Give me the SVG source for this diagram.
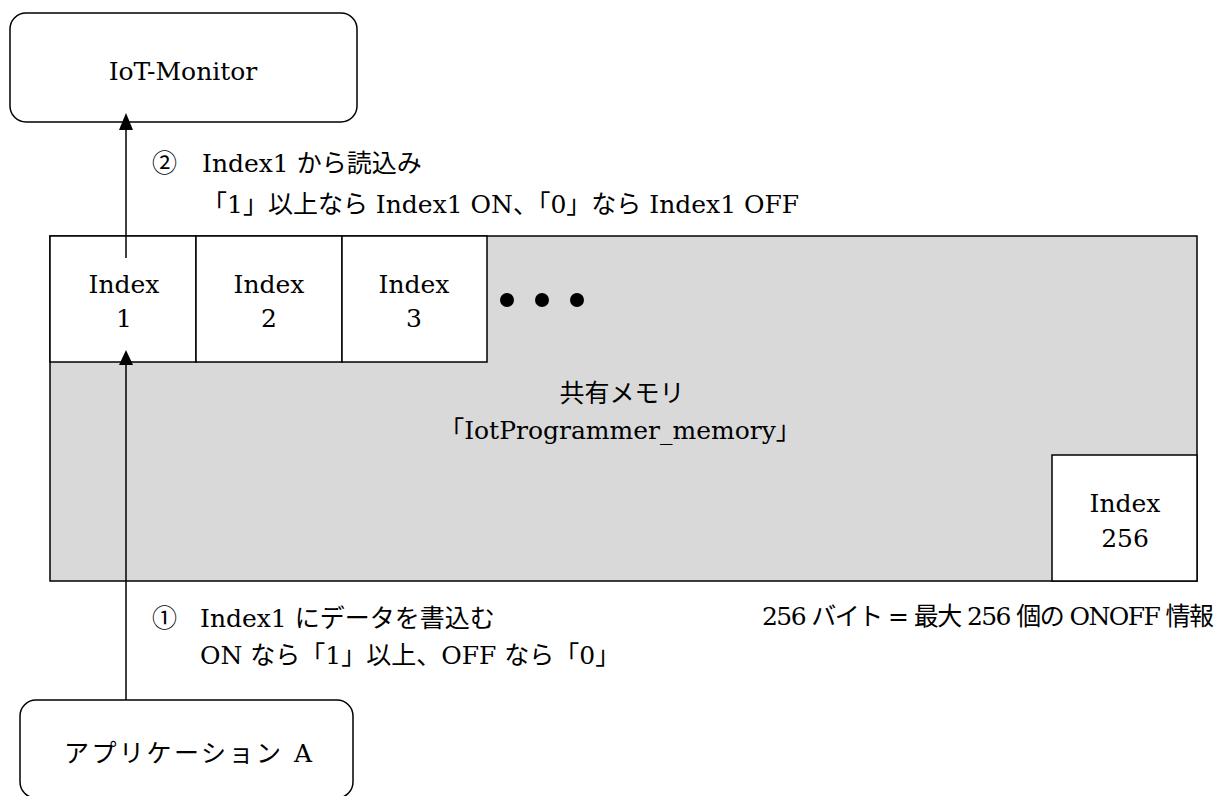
<svg xmlns="http://www.w3.org/2000/svg" width="1218" height="796" viewBox="0 0 1218 796">
<style>
.t{font-family:'DejaVu Serif','Noto Sans CJK JP',serif;font-size:25px;fill:#000}
.c{text-anchor:middle}
.box{fill:#fff;stroke:#000;stroke-width:1.5}
.cell{fill:#fff;stroke:#000;stroke-width:1.5}
.ln{stroke:#000;stroke-width:1.5;fill:none}
.ah{fill:#000}
</style>
<rect width="1218" height="796" fill="#fff"/>
<g id="memory">
<rect x="50" y="236" width="1147" height="345" fill="#d9d9d9" stroke="#000" stroke-width="1.5"/>
<text class="t c" x="622" y="402">共有メモリ</text>
<text class="t c" x="620" y="439">「IotProgrammer_memory」</text>
</g>
<g id="index1">
<rect class="cell" x="50" y="236" width="146" height="126"/>
<text class="t c" x="124" y="293">Index</text>
<text class="t c" x="124" y="327">1</text>
</g>
<g id="index2">
<rect class="cell" x="196" y="236" width="146" height="126"/>
<text class="t c" x="269" y="293">Index</text>
<text class="t c" x="269" y="327">2</text>
</g>
<g id="index3">
<rect class="cell" x="342" y="236" width="145" height="126"/>
<text class="t c" x="414" y="293">Index</text>
<text class="t c" x="414" y="327">3</text>
</g>
<g id="dots">
<circle cx="507" cy="300" r="7"/>
<circle cx="542" cy="300" r="7"/>
<circle cx="577" cy="300" r="7"/>
</g>
<g id="index256">
<rect class="cell" x="1052" y="455" width="145" height="126"/>
<text class="t c" x="1125" y="512">Index</text>
<text class="t c" x="1125" y="547">256</text>
</g>
<g id="iot-monitor">
<rect class="box" x="10" y="13" width="347" height="109" rx="16"/>
<text class="t c" x="183" y="80">IoT-Monitor</text>
</g>
<g id="app-a">
<rect class="box" x="20" y="700" width="333" height="98" rx="16"/>
<text class="t" x="64" y="762" font-size="27" textLength="248" lengthAdjust="spacing">アプリケーション A</text>
</g>
<g id="connectors">
<line class="ln" x1="126" y1="258" x2="126" y2="125"/>
<path class="ah" d="M126,113 L133,130 L119,130 Z"/>
<line class="ln" x1="126" y1="700" x2="126" y2="360"/>
<path class="ah" d="M126,350 L133,365 L119,365 Z"/>
</g>
<g id="labels">
<text class="t" x="152" y="172">②<tspan x="202">Index1 から読込み</tspan></text>
<text class="t" x="202" y="213">「1」以上なら Index1 ON、「0」なら Index1 OFF</text>
<text class="t" x="152" y="627">①<tspan x="200">Index1 にデータを書込む</tspan></text>
<text class="t" x="200" y="664">ON なら「1」以上、OFF なら「0」</text>
<text class="t" x="762" y="625" font-size="21.5" textLength="452" lengthAdjust="spacing">256 バイト = 最大 256 個の ONOFF 情報</text>
</g>
</svg>
